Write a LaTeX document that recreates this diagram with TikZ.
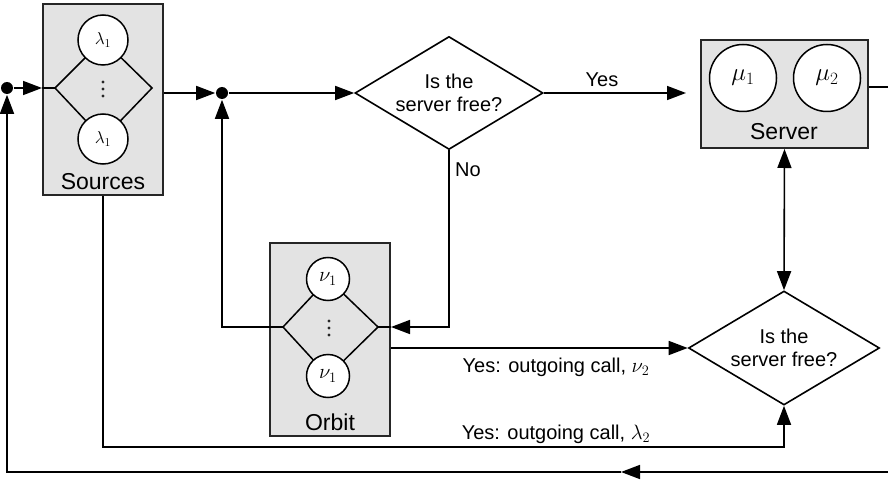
\documentclass[tikz,border=0pt]{standalone}
\usepackage{fontspec}
\setmainfont{Liberation Sans}
\usetikzlibrary{shapes.geometric,arrows.meta}
\begin{document}
\begin{tikzpicture}[x=1pt,y=-1pt,line width=1.6pt,
  arr/.style={-{Triangle[length=19pt,width=14pt]}},
  darr/.style={{Triangle[length=19pt,width=14pt]}-{Triangle[length=19pt,width=14pt]}},
  boxnode/.style={draw=black!85, fill=black!11, line width=2pt, inner sep=0pt},
  circ/.style={circle, draw, fill=white, inner sep=0pt, line width=1.5pt},
  inner/.style={line width=1.5pt},
  dot/.style={circle, fill=black, inner sep=0pt, minimum size=12pt},
  smalldot/.style={circle, fill=black!85, inner sep=0pt, minimum size=3.4pt},
  quest/.style={diamond, draw, aspect=1.66, inner sep=0pt, align=center, font=\fontsize{20}{23}\selectfont},
  boxlabel/.style={font=\fontsize{23}{26}\selectfont, inner sep=0pt},
  lab/.style={font=\fontsize{20}{23}\selectfont, inner sep=0pt}
]
\useasboundingbox (0,0) rectangle (888,481);

% Sources
\node[boxnode, minimum width=120pt, minimum height=191pt] (src) at (103,99.5) {};
\coordinate (srcL) at (55,88);
\coordinate (srcR) at (152,88);
\draw[inner] (srcL) -- (103,40) -- (srcR) -- (103,139) -- cycle;
\node[circ, minimum size=50pt] (s1) at (103,40) {\fontsize{18}{18}\selectfont$\lambda_1$};
\node[circ, minimum size=50pt] (s2) at (103,139) {\fontsize{18}{18}\selectfont$\lambda_1$};
\foreach \k in {-1,0,1} \node[smalldot] (sd\k) at (103,89+7*\k) {};
\node[boxlabel] (srclab) at (103,182) {Sources};

% Orbit
\node[boxnode, minimum width=120pt, minimum height=193pt] (orb) at (330,339.5) {};
\coordinate (oL) at (283,327);
\coordinate (oR) at (378,327);
\draw[inner] (oL) -- (328,279) -- (oR) -- (328,376) -- cycle;
\node[circ, minimum size=43pt] (o1) at (328,279) {\fontsize{20}{20}\selectfont$\nu_1$};
\node[circ, minimum size=43pt] (o2) at (328,376) {\fontsize{20}{20}\selectfont$\nu_1$};
\foreach \k in {-1,0,1} \node[smalldot] (od\k) at (329,328+7*\k) {};
\node[boxlabel] (orblab) at (330,422) {Orbit};

% Server
\node[boxnode, minimum width=167pt, minimum height=108pt] (srv) at (784.5,94) {};
\node[circ, minimum size=67pt] (m1) at (743,78) {\fontsize{26}{26}\selectfont$\mu_1$};
\node[circ, minimum size=67pt] (m2) at (827,78) {\fontsize{26}{26}\selectfont$\mu_2$};
\node[boxlabel] (srvlab) at (784,132) {Server};

% Decisions
\node[quest, minimum width=188pt, minimum height=113pt] (q1) at (449,93) {Is the\\server free?};
\node[quest, minimum width=191pt, minimum height=114pt] (q2) at (784,348) {Is the\\server free?};

% Dots
\node[dot] (d1) at (7,88) {};
\node[dot] (d2) at (222,93) {};

% free ends
\coordinate (srvout) at (888,87);
\coordinate (rb) at (888,472);
\coordinate (mid) at (621,472);
\coordinate (lb) at (7,472);

% Connectors
\draw[arr] (d1) -- (src.west |- d1);
\draw (src.west |- d1) -- (srcL);
\draw[arr] (src.east |- d2) -- (d2);
\draw[arr] (d2) -- (q1.west);
\draw[arr] (oL) -- (d2 |- oL) -- (d2);
\draw[arr, shorten >=14pt] (q1.east) -- (srv.west |- q1.east);
\draw[arr] (q1.south) -- (q1.south |- oR) -- (orb.east |- oR);
\draw (orb.east |- oR) -- (oR);
\draw[arr] (orb.east |- q2.west) -- (q2.west);
\draw[darr] (srv.south) -- (q2.north);
\draw[arr] (src.south) -- (src.south |- 0,447) -- (q2.south |- 0,447) -- (q2.south);
\draw (srv.east |- srvout) -- (srvout);
\draw[arr] (rb) -- (mid);
\draw[arr] (mid) -- (lb) -- (d1);

% Labels
\node[lab] (yes) at (602,80) {Yes};
\node[lab] (no) at (468,170) {No};
\node[lab] (yv) at (556,367) {Yes: outgoing call, $\nu_2$};
\node[lab] (yl) at (556,434) {Yes: outgoing call, $\lambda_2$};
\end{tikzpicture}
\end{document}
